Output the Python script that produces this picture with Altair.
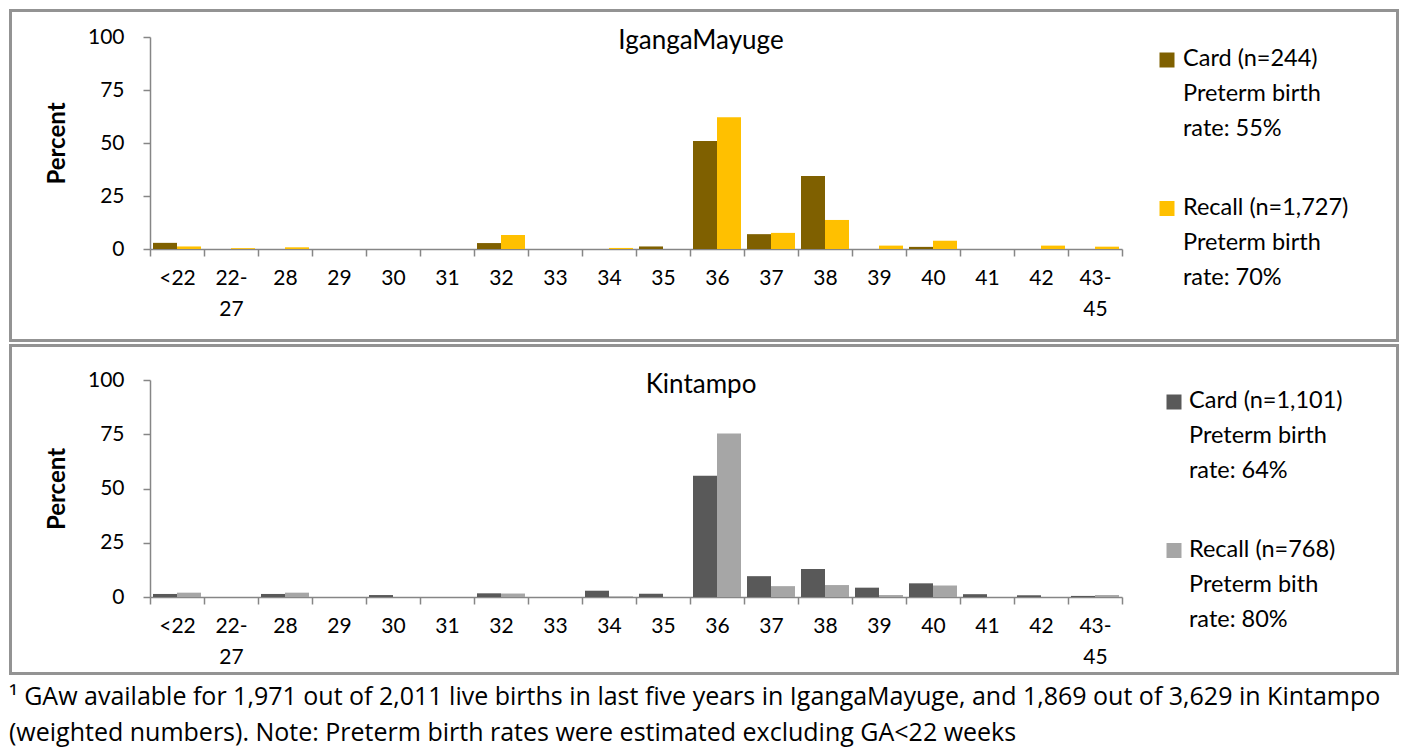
import altair as alt
import pandas as pd

categories = ["<22", "22-27", "28", "29", "30", "31", "32", "33", "34", "35",
              "36", "37", "38", "39", "40", "41", "42", "43-45"]
series = ["Card", "Recall"]

iganga_card = [2.9, 0, 0, 0, 0, 0, 2.8, 0, 0, 1.2, 51.0, 7.0, 34.4, 0, 1.0, 0, 0, 0]
iganga_recall = [1.2, 0.4, 0.8, 0, 0, 0, 6.6, 0, 0.5, 0, 62.2, 7.6, 13.7, 1.6, 3.9, 0, 1.6, 1.1]
kint_card = [1.4, 0, 1.4, 0, 0.9, 0, 1.7, 0, 2.9, 1.5, 55.9, 9.6, 12.9, 4.3, 6.3, 1.3, 0.8, 0.5]
kint_recall = [2.0, 0, 2.0, 0, 0, 0, 1.6, 0, 0.3, 0, 75.4, 5.0, 5.5, 0.9, 5.3, 0, 0, 0.9]

iganga_colors = ["#7f6000", "#ffc000"]
kint_colors = ["#595959", "#a6a6a6"]

iganga_legend = [["Card (n=244)", "Preterm birth", "rate: 55%"],
                 ["Recall (n=1,727)", "Preterm birth", "rate: 70%"]]
kint_legend = [["Card (n=1,101)", "Preterm birth", "rate: 64%"],
               ["Recall (n=768)", "Preterm bith", "rate: 80%"]]

footnote = ["\u00b9 GAw available for 1,971 out of 2,011 live births in last five years in IgangaMayuge, and 1,869 out of 3,629 in Kintampo",
            "(weighted numbers). Note: Preterm birth rates were estimated excluding GA<22 weeks"]

FONT = "Lato"
W = 972
one = pd.DataFrame({"k": [0]})


def panel(name, card, recall, colors, legend_lines, height, title_y,
          box_top, box_bottom, sym_x, sym_y, text_x, text_y, note=None):
    df = pd.DataFrame({
        "GA": categories * 2,
        "Series": ["Card"] * len(categories) + ["Recall"] * len(categories),
        "Percent": card + recall,
    })
    bars = alt.Chart(df).mark_bar().encode(
        x=alt.X("GA:N", sort=categories,
                scale=alt.Scale(paddingInner=0, paddingOuter=0),
                axis=alt.Axis(title=None, labelAngle=0, tickBand="extent",
                              labelExpr="indexof(datum.label, '-') > 0 ? [slice(datum.label, 0, 3), slice(datum.label, 3)] : datum.label",
                              labelLineHeight=31, labelPadding=11)),
        xOffset=alt.XOffset("Series:N", sort=series,
                            scale=alt.Scale(paddingInner=0, paddingOuter=0.125)),
        y=alt.Y("Percent:Q", scale=alt.Scale(domain=[0, 100], nice=False),
                axis=alt.Axis(values=[0, 25, 50, 75, 100], title="Percent",
                              titleFontWeight="bold", titleFontSize=24,
                              titleFont=FONT, titleColor="black",
                              titlePadding=18, labelPadding=19)),
        color=alt.Color("Series:N", sort=series,
                        scale=alt.Scale(domain=series, range=colors), legend=None),
    )
    title = alt.Chart(one).mark_text(font=FONT, fontSize=26, baseline="middle",
                                     align="center", color="black").encode(
        x=alt.value(551), y=alt.value(title_y), text=alt.value(name))
    box = alt.Chart(one).mark_rect(fillOpacity=0, stroke="#939393", strokeWidth=3).encode(
        x=alt.value(-139.5), x2=alt.value(1247.5),
        y=alt.value(box_top), y2=alt.value(box_bottom))
    layers = [box, bars, title]
    for i in range(2):
        layers.append(alt.Chart(one).mark_square(size=225, opacity=1).encode(
            x=alt.value(sym_x), y=alt.value(sym_y[i]), color=alt.value(colors[i])))
        layers.append(alt.Chart(one).mark_text(font=FONT, fontSize=23.5, align="left",
                                               baseline="middle", lineHeight=35,
                                               color="black").encode(
            x=alt.value(text_x), y=alt.value(text_y[i]), text=alt.value(legend_lines[i])))
    if note is not None:
        for j, line in enumerate(note):
            layers.append(alt.Chart(one).mark_text(font="Open Sans", fontSize=25, align="left",
                                                   baseline="middle", color="black").encode(
                x=alt.value(-141), y=alt.value(317 + 36 * j), text=alt.value(line)))
    return alt.layer(*layers).properties(width=W, height=height)


top = panel("IgangaMayuge", iganga_card, iganga_recall, iganga_colors, iganga_legend,
            212, 4, -26.5, 303.5, 1017, [23, 171.5], 1033, [22, 171])
bottom = panel("Kintampo", kint_card, kint_recall, kint_colors, kint_legend,
               217, 5, -34.5, 293.5, 1024, [22, 170.5], 1039, [21, 170], note=footnote)

chart = alt.vconcat(top, bottom, spacing=0).resolve_scale(
    color="independent", y="independent", x="independent"
).properties(padding=0).configure_view(stroke="transparent").configure_axis(
    labelFont=FONT, labelFontSize=21, labelColor="black",
    domainColor="#868686", domainWidth=1.5, tickColor="#868686", tickWidth=1.5,
    tickSize=7, grid=False
)

chart.save("out.html", embed_options={"renderer": "svg", "actions": False})
